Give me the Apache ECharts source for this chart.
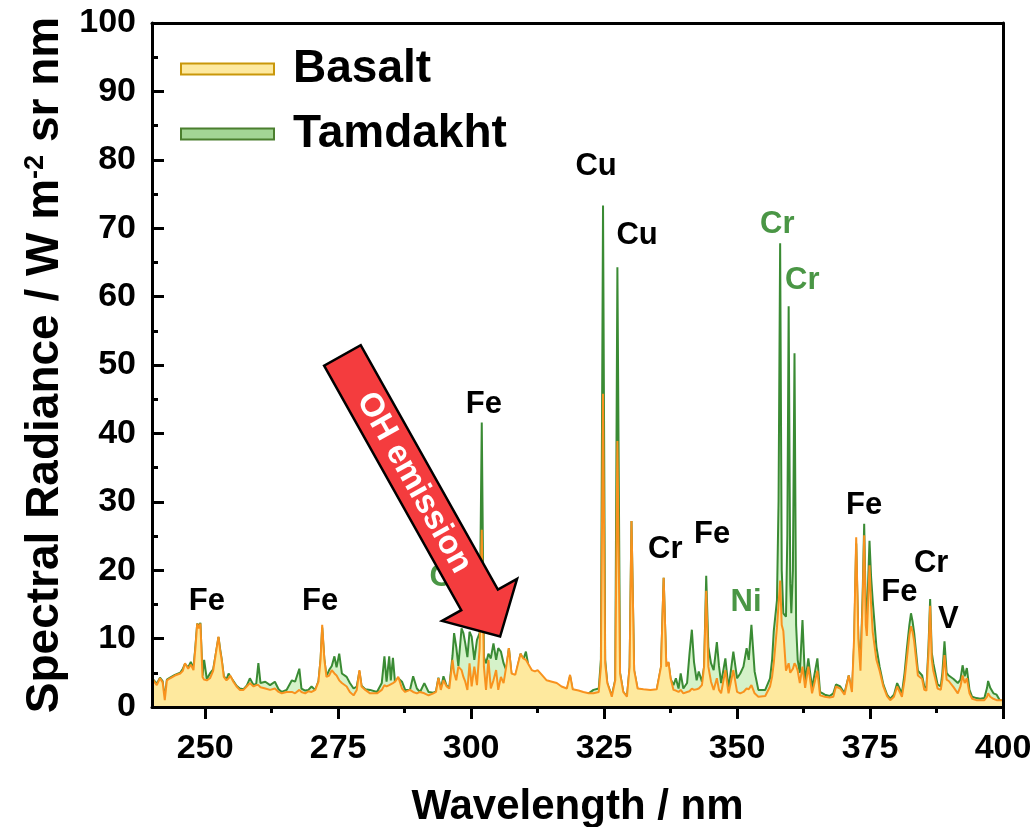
<!DOCTYPE html>
<html>
<head>
<meta charset="utf-8">
<script src="https://cdn.jsdelivr.net/npm/echarts@6/dist/echarts.min.js"></script>
<style>
  html, body { margin: 0; padding: 0; background: #fff; }
  #chart { width: 1035px; height: 827px; }
</style>
</head>
<body>
<div id="chart"></div>
<script>
// Emission spectra (wavelength in nm, spectral radiance in W m^-2 sr^-1 nm^-1)
const wavelength = [
  240.0, 240.25, 240.9, 241.5, 242.0, 242.4, 242.8, 243.4, 244.3, 245.3,
  245.8, 246.2, 246.8, 247.3, 247.8, 248.2, 248.5, 248.8, 249.1, 249.5,
  249.8, 250.3, 250.9, 251.5, 252.0, 252.5, 252.8, 253.1, 253.5, 254.0,
  254.4, 254.7, 255.3, 255.9, 256.5, 257.2, 257.8, 258.4, 259.1, 259.6,
  260.0, 260.4, 261.3, 262.2, 263.1, 263.8, 264.4, 265.3, 266.3, 266.9,
  267.7, 268.1, 268.8, 269.4, 270.0, 270.7, 271.3, 271.7, 272.0, 272.4,
  272.8, 273.3, 273.8, 274.3, 274.7, 275.2, 275.7, 276.6, 277.2, 277.9,
  278.5, 279.0, 279.4, 280.1, 281.0, 282.3, 283.2, 283.7, 284.1, 284.6,
  284.9, 285.3, 285.7, 286.3, 287.0, 287.6, 288.5, 289.1, 289.8, 290.4,
  291.2, 292.0, 292.9, 293.4, 293.85, 294.3, 294.8, 295.4, 295.9, 296.5,
  296.8, 297.2, 297.6, 298.2, 298.55, 298.9, 299.3, 299.7, 300.1, 300.6,
  301.1, 301.6, 302.0, 302.4, 302.8, 303.25, 303.7, 304.2, 304.7, 305.1,
  305.6, 306.1, 306.6, 307.1, 307.6, 308.3, 308.9, 309.3, 309.8, 310.3,
  310.8, 311.4, 312.0, 312.5, 313.3, 314.2, 315.2, 316.1, 317.0, 318.0,
  318.6, 319.1, 320.2, 321.1, 322.1, 323.0, 324.0, 324.4, 324.8, 325.2,
  325.6, 326.45, 327.1, 327.5, 328.0, 328.6, 329.3, 329.8, 330.15, 330.65,
  331.3, 332.4, 333.7, 334.9, 335.7, 336.2, 336.7, 337.1, 337.5, 338.05,
  338.5, 339.0, 339.4, 339.9, 340.6, 341.06, 341.5, 341.9, 342.4, 342.8,
  343.4, 343.8, 344.2, 344.6, 345.1, 345.6, 346.2, 346.6, 347.0, 347.8,
  348.4, 349.3, 350.0, 350.6, 351.2, 351.8, 352.2, 352.7, 353.3, 354.0,
  355.3, 356.2, 356.6, 356.9, 357.5, 357.8, 358.1, 358.4, 358.7, 359.2,
  359.45, 359.7, 360.0, 360.2, 360.5, 360.8, 361.1, 361.4, 361.8, 362.3,
  362.8, 363.4, 364.1, 365.1, 365.6, 366.5, 367.4, 368.1, 368.6, 369.4,
  370.2, 371.0, 371.6, 372.0, 372.4, 372.8, 373.2, 373.6, 373.9, 374.2,
  374.4, 374.9, 375.2, 375.5, 376.2, 376.8, 377.5, 378.2, 378.8, 379.5,
  380.1, 381.0, 381.5, 381.9, 382.4, 382.7, 383.0, 383.3, 384.0, 384.8,
  385.2, 385.6, 386.0, 386.3, 386.6, 386.9, 387.7, 388.3, 388.6, 389.0,
  389.4, 389.8, 390.7, 391.5, 392.0, 392.4, 392.8, 393.2, 393.7, 394.2,
  395.0, 395.7, 396.5, 397.0, 397.2, 397.6, 398.2, 398.8, 399.4, 400.0
];

const basalt = [
  3.5, 3.9, 3.2, 4.2, 3.6, 1.0, 3.9, 4.2, 4.6, 4.9,
  5.3, 6.4, 5.6, 6.2, 5.4, 9.0, 12.2, 11.5, 12.2, 4.4,
  4.0, 3.9, 4.2, 5.3, 7.8, 10.3, 8.3, 6.9, 4.4, 3.9,
  4.2, 4.6, 3.7, 3.0, 2.5, 2.5, 3.0, 3.5, 3.0, 3.2,
  3.2, 2.9, 2.7, 2.5, 2.7, 2.2, 2.0, 2.2, 2.2, 2.0,
  2.5, 2.2, 2.0, 2.3, 2.2, 2.5, 3.7, 7.0, 12.0, 7.0,
  4.4, 4.6, 5.4, 4.9, 4.6, 3.9, 3.5, 3.0, 2.2, 1.7,
  2.5, 5.4, 3.0, 2.5, 2.0, 2.0, 2.5, 3.2, 3.0, 3.2,
  3.3, 3.5, 3.7, 4.4, 2.7, 2.2, 2.5, 2.2, 2.0, 2.2,
  2.0, 1.7, 2.0, 2.2, 4.2, 2.5, 3.9, 3.0, 2.7, 6.9,
  5.0, 3.9, 5.9, 5.4, 4.4, 3.7, 2.5, 6.4, 3.0, 5.9,
  3.2, 8.6, 25.9, 5.9, 2.5, 6.9, 2.7, 3.9, 5.4, 2.5,
  4.4, 3.5, 5.9, 8.6, 4.9, 4.7, 6.6, 7.8, 7.1, 6.9,
  6.2, 5.4, 5.2, 5.4, 4.7, 3.9, 3.7, 3.5, 3.0, 2.7,
  4.7, 2.6, 2.4, 2.2, 2.0, 2.0, 2.2, 5.9, 45.8, 6.4,
  3.5, 1.5, 3.9, 38.9, 4.9, 2.2, 1.5, 5.9, 27.2, 5.4,
  2.7, 2.6, 2.5, 2.6, 5.9, 18.9, 5.9, 6.6, 4.2, 2.5,
  2.4, 2.2, 2.5, 2.0, 2.2, 2.3, 2.7, 2.5, 2.6, 2.7,
  3.2, 5.9, 17.0, 5.9, 3.7, 2.5, 4.2, 2.5, 2.0, 5.4,
  2.0, 5.4, 2.2, 2.0, 2.2, 2.7, 2.6, 3.2, 2.0, 1.5,
  1.6, 3.0, 4.5, 6.4, 11.6, 15.0, 18.5, 12.0, 11.1, 5.3,
  5.5, 6.4, 5.0, 5.0, 5.6, 6.4, 6.0, 5.3, 3.5, 5.9,
  2.8, 5.9, 2.0, 5.3, 1.7, 1.5, 1.4, 1.5, 3.0, 2.7,
  1.8, 4.6, 2.2, 10.0, 24.8, 10.0, 5.3, 15.0, 25.1, 12.0,
  10.4, 20.7, 15.0, 11.0, 6.9, 5.3, 3.0, 1.6, 1.0, 1.5,
  3.0, 1.5, 4.0, 6.9, 10.5, 11.8, 11.0, 9.6, 4.6, 4.1,
  2.5, 2.4, 8.0, 14.8, 7.0, 5.3, 2.7, 2.5, 4.0, 7.6,
  4.0, 3.8, 2.9, 2.0, 3.0, 4.6, 3.5, 4.2, 2.0, 1.2,
  1.0, 1.0, 1.0, 1.5, 2.0, 1.5, 1.2, 1.0, 1.0, 1.0
];

const tamdakht = [
  3.7, 4.0, 3.4, 4.3, 3.8, 1.2, 4.0, 4.3, 4.7, 5.0,
  5.6, 6.3, 5.8, 6.6, 5.6, 9.2, 12.2, 11.8, 12.3, 4.6,
  6.9, 4.1, 4.9, 5.5, 7.8, 10.2, 8.5, 7.0, 4.5, 4.0,
  4.9, 4.5, 3.8, 3.1, 2.7, 2.6, 3.1, 4.2, 3.2, 3.4,
  6.4, 3.5, 3.7, 3.2, 3.7, 2.6, 2.2, 2.5, 3.9, 3.7,
  5.6, 2.7, 2.4, 2.5, 3.0, 2.5, 3.8, 7.0, 11.6, 7.0,
  4.5, 5.4, 6.0, 7.4, 5.8, 7.8, 4.9, 4.4, 3.5, 2.7,
  3.0, 5.2, 3.1, 2.6, 2.5, 2.2, 3.5, 7.4, 3.7, 7.4,
  3.9, 7.2, 3.5, 4.2, 3.7, 2.5, 2.5, 4.5, 2.7, 2.2,
  3.5, 2.2, 2.1, 2.3, 4.3, 2.6, 4.5, 3.1, 2.9, 7.5,
  10.8, 8.8, 6.0, 11.5, 10.8, 9.3, 7.3, 11.0, 10.3, 6.9,
  9.8, 10.8, 41.6, 7.3, 6.4, 7.8, 7.1, 9.3, 6.9, 8.6,
  8.1, 6.4, 5.4, 8.6, 4.7, 4.4, 6.4, 7.8, 6.9, 8.1,
  5.9, 5.2, 5.0, 5.2, 4.5, 3.7, 3.5, 3.3, 2.8, 2.5,
  4.5, 2.4, 2.2, 2.1, 2.0, 2.5, 2.7, 6.9, 73.3, 6.9,
  3.5, 1.6, 4.0, 64.3, 5.0, 2.2, 1.5, 5.8, 27.2, 5.3,
  2.6, 2.5, 2.4, 2.5, 5.8, 18.9, 5.8, 6.5, 4.1, 3.2,
  4.2, 2.7, 4.9, 2.7, 3.5, 7.8, 11.3, 6.6, 3.9, 5.2,
  3.7, 5.9, 19.2, 8.8, 6.4, 5.4, 9.5, 6.0, 3.5, 7.1,
  2.7, 8.1, 4.2, 4.9, 5.9, 8.6, 6.9, 12.0, 5.2, 2.5,
  2.5, 4.2, 7.0, 11.1, 15.6, 30.0, 67.8, 20.0, 13.7, 13.2,
  25.0, 58.6, 18.0, 13.7, 20.0, 51.7, 12.0, 6.9, 5.0, 12.7,
  3.5, 7.1, 2.8, 7.1, 2.2, 1.8, 1.6, 2.0, 3.3, 3.0,
  2.0, 4.6, 2.0, 9.0, 23.9, 10.0, 5.9, 16.0, 26.8, 14.0,
  12.7, 24.3, 19.0, 15.6, 8.8, 5.9, 3.3, 1.8, 1.2, 1.8,
  3.5, 2.0, 5.0, 8.3, 12.0, 13.7, 12.5, 10.8, 5.3, 4.6,
  3.0, 2.8, 9.0, 15.8, 8.0, 6.4, 3.3, 3.0, 5.0, 9.6,
  5.0, 4.6, 4.1, 3.5, 4.0, 6.1, 4.5, 5.7, 2.5, 1.5,
  1.3, 1.2, 1.3, 2.8, 3.8, 2.8, 2.0, 1.8, 1.0, 0.9
];

const seriesNames = ['Basalt', 'Tamdakht'];
const xTickValues = [250, 275, 300, 325, 350, 375, 400];
const xMinorTickValues = [262.5, 287.5, 312.5, 337.5, 362.5, 387.5];

// Emission line identifications: [element, wavelength, radiance, sample it is specific to]
const lineLabels = [
  ['Fe', 250.3, 15.5, null],
  ['Fe', 271.6, 15.5, null],
  ['Cr', 295.4, 19.0, 'Tamdakht'],
  ['Fe', 302.4, 44.3, null],
  ['Cu', 323.5, 79.0, null],
  ['Cu', 331.2, 69.0, null],
  ['Cr', 336.5, 23.0, null],
  ['Fe', 345.3, 25.2, null],
  ['Ni', 351.7, 15.3, 'Tamdakht'],
  ['Cr', 357.55, 70.6, 'Tamdakht'],
  ['Cr', 362.25, 62.3, 'Tamdakht'],
  ['Fe', 373.9, 29.4, null],
  ['Fe', 380.5, 16.7, null],
  ['Cr', 386.5, 21.0, null],
  ['V', 389.7, 12.8, null]
];

// OH band callout: arrow from tail to tip, in data coordinates
const ohArrowTail = [275.8, 51.4];
const ohArrowTip = [305.45, 10.3];
const ohArrowText = 'OH emission';

const FONT = 'Arial, "Liberation Sans", Helvetica, sans-serif';
const COLORS = {
  Basalt: { line: '#f8921e', fill: '#fee99e', icon: '#fde9a0', iconBorder: '#c9970a' },
  Tamdakht: { line: '#3a8b34', fill: '#d5f2c9', icon: '#a3d595', iconBorder: '#4b7f2f' }
};
const LABEL_GREEN = '#4a9645';
const AXIS_LINE = { color: '#000', width: 3 };

const chart = echarts.init(document.getElementById('chart'), null, { renderer: 'canvas' });

const pairs = (vals) => wavelength.map((w, i) => [w, vals[i]]);

function spectrumSeries(name, vals, z) {
  const c = COLORS[name];
  return {
    name: name,
    type: 'line',
    data: pairs(vals),
    xAxisIndex: 0,
    yAxisIndex: 0,
    symbol: 'none',
    showSymbol: false,
    smooth: false,
    sampling: null,
    z: z,
    lineStyle: { color: c.line, width: 2 },
    itemStyle: { color: c.line },
    areaStyle: { color: c.fill, opacity: 1 },
    emphasis: { disabled: true }
  };
}

const option = {
  animation: false,
  backgroundColor: '#fff',
  grid: { left: 152, right: 32, top: 23, bottom: 120, containLabel: false, outerBoundsMode: 'none' },
  legend: {
    orient: 'vertical',
    left: 175,
    top: 41,
    itemWidth: 93,
    itemHeight: 11,
    itemGap: 19,
    icon: 'rect',
    selectedMode: false,
    data: seriesNames.map(n => ({
      name: n,
      icon: 'rect',
      itemStyle: { color: COLORS[n].icon, borderColor: COLORS[n].iconBorder, borderWidth: 2 }
    })),
    textStyle: { fontFamily: FONT, fontWeight: 'bold', fontSize: 46, color: '#000', padding: [0, 0, 0, 14] }
  },
  xAxis: [
    {
      type: 'value', min: 240, max: 400, position: 'bottom', z: 10,
      name: 'Wavelength / nm', nameLocation: 'middle', nameGap: 79,
      nameTextStyle: { fontFamily: FONT, fontWeight: 'bold', fontSize: 42, color: '#000' },
      axisLine: { show: true, onZero: false, lineStyle: AXIS_LINE },
      axisTick: { show: true, inside: false, length: 12, customValues: xTickValues, lineStyle: AXIS_LINE },
      axisLabel: { show: true, customValues: xTickValues, margin: 25, fontFamily: FONT, fontWeight: 'bold', fontSize: 34, color: '#000' },
      splitLine: { show: false }
    },
    {
      type: 'value', min: 240, max: 400, position: 'bottom', z: 10,
      axisLine: { show: false },
      axisTick: { show: true, inside: false, length: 6, customValues: xMinorTickValues, lineStyle: AXIS_LINE },
      axisLabel: { show: false },
      splitLine: { show: false }
    },
    {
      type: 'value', min: 240, max: 400, position: 'top', z: 10,
      axisLine: { show: true, onZero: false, lineStyle: AXIS_LINE },
      axisTick: { show: false }, axisLabel: { show: false }, splitLine: { show: false }
    }
  ],
  yAxis: [
    {
      type: 'value', min: 0, max: 100, interval: 10, position: 'left', z: 10,
      name: 'Spectral Radiance / W m{sup|-2} sr nm',
      nameLocation: 'middle', nameGap: 83,
      nameTextStyle: {
        fontFamily: FONT, fontWeight: 'bold', fontSize: 46, color: '#000',
        rich: { sup: { fontFamily: FONT, fontWeight: 'bold', fontSize: 27, color: '#000', verticalAlign: 'top' } }
      },
      axisLine: { show: true, onZero: false, lineStyle: AXIS_LINE },
      axisTick: { show: true, inside: true, length: 12, lineStyle: AXIS_LINE },
      minorTick: { show: true, splitNumber: 2, length: 6, lineStyle: AXIS_LINE },
      axisLabel: { margin: 16, fontFamily: FONT, fontWeight: 'bold', fontSize: 34, color: '#000' },
      splitLine: { show: false }
    },
    {
      type: 'value', min: 0, max: 100, position: 'right', z: 10,
      axisLine: { show: true, onZero: false, lineStyle: AXIS_LINE },
      axisTick: { show: false }, axisLabel: { show: false }, splitLine: { show: false }
    }
  ],
  series: [
    spectrumSeries('Tamdakht', tamdakht, 2),
    spectrumSeries('Basalt', basalt, 3),
    {
      name: 'line identifications',
      type: 'scatter',
      xAxisIndex: 0,
      yAxisIndex: 0,
      z: 5,
      silent: true,
      symbolSize: 1,
      itemStyle: { color: 'rgba(0,0,0,0)', opacity: 1 },
      label: {
        show: true, position: 'inside', formatter: '{b}',
        fontFamily: FONT, fontWeight: 'bold', fontSize: 31, color: '#000',
        textBorderWidth: 0, opacity: 1
      },
      data: lineLabels.map(([el, wl, rad, sample]) => ({
        name: el,
        value: [wl, rad],
        label: { color: sample === 'Tamdakht' ? LABEL_GREEN : '#000' }
      }))
    }
  ]
};

chart.setOption(option);

// Block arrow pointing at the OH band, built in pixel space from its data anchors
function blockArrow(p0, p1, shaftW, headW, headL) {
  const dx = p1[0] - p0[0], dy = p1[1] - p0[1];
  const len = Math.hypot(dx, dy);
  const ux = dx / len, uy = dy / len;
  const nx = -uy, ny = ux;
  const bx = p1[0] - ux * headL, by = p1[1] - uy * headL;
  return [
    [p0[0] + nx * shaftW / 2, p0[1] + ny * shaftW / 2],
    [bx + nx * shaftW / 2, by + ny * shaftW / 2],
    [bx + nx * headW / 2, by + ny * headW / 2],
    [p1[0], p1[1]],
    [bx - nx * headW / 2, by - ny * headW / 2],
    [bx - nx * shaftW / 2, by - ny * shaftW / 2],
    [p0[0] - nx * shaftW / 2, p0[1] - ny * shaftW / 2]
  ];
}

const tail = chart.convertToPixel({ seriesIndex: 0 }, ohArrowTail);
const tip = chart.convertToPixel({ seriesIndex: 0 }, ohArrowTip);
const adx = tip[0] - tail[0], ady = tip[1] - tail[1];
const alen = Math.hypot(adx, ady);
const angle = Math.atan2(ady, adx);
const textDist = 146;

chart.setOption({
  graphic: [
    {
      type: 'polygon',
      z: 100,
      silent: true,
      shape: { points: blockArrow(tail, tip, 42, 86, 42) },
      style: { fill: '#f43c3e', stroke: '#000', lineWidth: 2.5, lineJoin: 'miter' }
    },
    {
      type: 'text',
      z: 101,
      silent: true,
      x: tail[0] + adx / alen * textDist,
      y: tail[1] + ady / alen * textDist,
      rotation: -angle,
      style: {
        text: ohArrowText,
        fill: '#fff',
        font: 'bold 33px ' + FONT,
        align: 'center',
        verticalAlign: 'middle',
        textAlign: 'center',
        textVerticalAlign: 'middle'
      }
    }
  ]
});
</script>
</body>
</html>
